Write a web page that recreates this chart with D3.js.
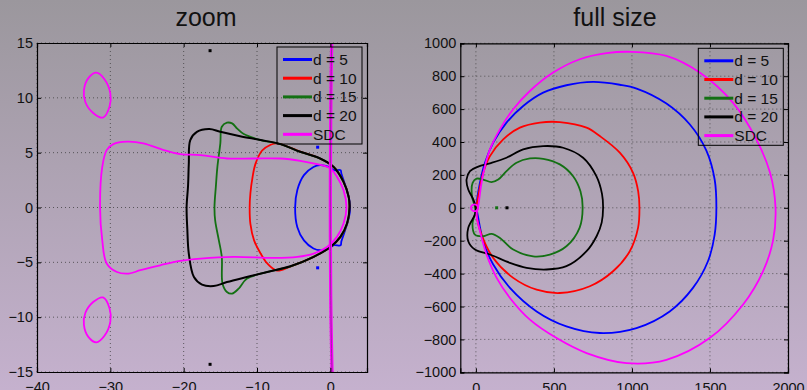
<!DOCTYPE html>
<html>
<head>
<meta charset="utf-8">
<script src="https://cdn.jsdelivr.net/npm/d3@7"></script>
<style>
body{margin:0;}
svg{display:block;font-family:"Liberation Sans",Arial,sans-serif;}
</style>
</head>
<body>
<script>
// legend entries, shared by both panels
const seriesNames = ["d = 5", "d = 10", "d = 15", "d = 20", "SDC"];
const seriesColors = ["#0000ff", "#ff0000", "#137013", "#000000", "#ff00ff"];

// left panel ("zoom"), closed boundary curves
const zoomD5 = [[-4.8,0],[-4.5,1.6],[-3.6,2.95],[-2.3,3.7],[-1.4,3.86],[-0.2,3.7],[0.5,3.4],[1.4,3.4],[1.5,3.1],[1.8,2.5],[2.5,1.0],[2.7,0],[2.5,-1.0],[1.8,-2.5],[1.5,-3.1],[1.4,-3.44],[0.5,-3.44],[-0.2,-3.74],[-1.4,-3.9],[-2.3,-3.74],[-3.6,-3.0],[-4.5,-1.8]];
const zoomD10 = [[-11.0,0],[-10.9,1.3],[-10.6,2.8],[-10.2,4.0],[-9.3,5.2],[-8.2,5.7],[-7.3,5.85],[-4.1,5.1],[-1.4,4.47],[0.45,3.7],[1.8,2.35],[2.5,0.97],[2.6,0],[2.3,-1.46],[1.4,-2.68],[0,-3.6],[-2.3,-4.5],[-5.4,-5.36],[-7.3,-5.75],[-8.6,-5.1],[-9.5,-4.2],[-10.4,-3.0],[-10.9,-1.5]];
const zoomD15 = [[-15.8,0],[-15.6,2.0],[-15.4,3.7],[-15.0,5.85],[-14.8,7.36],[-14.1,7.73],[-13.4,7.67],[-12.7,7.2],[-11.8,6.7],[-9.5,6.15],[-6.8,5.78],[-4.1,5.08],[-1.4,4.47],[0.45,3.7],[1.8,2.34],[2.5,0.97],[2.6,0],[2.3,-1.46],[1.4,-2.68],[0,-3.6],[-2.3,-4.5],[-5.4,-5.36],[-8.6,-5.88],[-11.4,-6.5],[-12.5,-7.4],[-13.4,-7.85],[-14.1,-7.7],[-14.7,-6.95],[-14.8,-4.5],[-15.2,-3.0],[-15.7,-1.2]];
const zoomD20 = [[-19.6,0],[-19.4,2.0],[-19.3,4.0],[-19.1,6.15],[-18.2,6.9],[-16.5,7.15],[-15.0,6.9],[-12.3,6.5],[-9.5,6.15],[-6.8,5.78],[-4.1,5.08],[-1.4,4.47],[0.45,3.7],[1.8,2.34],[2.5,0.97],[2.63,0],[2.27,-1.46],[1.36,-2.68],[0,-3.6],[-2.27,-4.5],[-5.45,-5.36],[-8.6,-5.88],[-11.4,-6.34],[-14.1,-6.8],[-15.9,-7.16],[-17.5,-7.03],[-18.6,-6.34],[-19.3,-4.2],[-19.5,-2.0]];
const zoomSDC = [[-31.4,0],[-31.1,3.7],[-30.5,5.23],[-29.6,5.78],[-27.7,6.0],[-25.5,5.85],[-22.7,5.23],[-20.5,4.87],[-17.7,4.78],[-14.1,4.47],[-10.5,4.47],[-6.8,4.47],[-4.1,4.26],[-1.8,3.95],[0,3.56],[0.9,2.8],[1.8,1.58],[2.2,0],[1.8,-1.46],[0.9,-2.68],[-0.45,-3.6],[-2.27,-4.2],[-4.5,-4.5],[-7.7,-4.6],[-13.2,-4.5],[-17.7,-4.66],[-20.5,-4.87],[-23.2,-5.27],[-25.9,-5.72],[-27.5,-6.03],[-29.1,-5.88],[-30.5,-5.1],[-31.1,-3.0]];
const zoomSDCtop = [[-31.9,12.3],[-30.8,11.7],[-30.0,10.4],[-30.1,9.2],[-31.0,8.2],[-32.3,8.6],[-33.4,9.6],[-33.6,10.7],[-33.0,11.8]];
const zoomSDCbot = [[-31.0,-8.2],[-30.1,-9.2],[-30.0,-10.4],[-30.8,-11.7],[-31.9,-12.3],[-33.0,-11.8],[-33.6,-10.7],[-33.4,-9.6],[-32.3,-8.6]];
const zoomSDCaxis = [[0.3,16],[0.2,15],[0.05,8],[0,0],[0.05,-8],[0.23,-15],[0.3,-16]];
const zoomDotsBlue = [[-1.73,5.5],[-1.73,-5.5]];
const zoomDotsBlack = [[-16.4,14.3],[-16.4,-14.3]];

// right panel ("full size")
const fullD5 = [[4,10],[26,152],[58,274],[111,396],[196,518],[303,619],[431,700],[580,745],[751,765],[922,748],[1030,725],[1221,634],[1370,508],[1477,348],[1530,172],[1541,0],[1530,-163],[1487,-325],[1391,-487],[1242,-630],[1029,-731],[794,-761],[580,-721],[389,-630],[218,-487],[111,-345],[47,-203],[15,-61]];
const fullD10 = [[6,20],[15,71],[47,213],[90,314],[175,416],[282,487],[410,518],[538,521],[709,487],[794,436],[922,335],[1007,213],[1040,100],[1048,0],[1039,-122],[986,-264],[879,-386],[730,-477],[538,-518],[389,-498],[239,-426],[111,-305],[36,-163],[4,-41]];
const fullD15 = [[-5,0],[-25,70],[-21,152],[4,177],[47,172],[100,156],[143,172],[196,223],[260,274],[346,300],[431,298],[538,264],[623,192],[670,100],[684,0],[665,-120],[580,-234],[474,-284],[367,-295],[239,-254],[154,-183],[100,-158],[47,-173],[-6,-163],[-22,-100],[-5,-30]];
const fullD20 = [[0,0],[-17,51],[-49,111],[-60,172],[-38,223],[15,250],[90,270],[196,304],[303,355],[431,375],[559,365],[687,304],[772,192],[808,85],[815,0],[806,-90],[775,-170],[709,-264],[580,-355],[453,-375],[325,-365],[218,-335],[90,-284],[-6,-254],[-49,-203],[-49,-122],[-6,-41]];
const fullSDC = [[15,10],[36,152],[58,253],[90,355],[154,477],[239,599],[346,710],[495,822],[666,903],[837,940],[1000,948],[1221,923],[1434,822],[1647,639],[1797,416],[1885,213],[1920,0],[1904,-200],[1840,-386],[1711,-589],[1498,-792],[1221,-924],[965,-944],[709,-883],[517,-792],[346,-680],[218,-548],[133,-426],[68,-284],[26,-142],[4,-41]];
const fullSDCloop = [[-32,0],[-20,18],[6,16],[14,0],[6,-16],[-20,-18]];
const fullDotsGreen = [[133,0]];
const fullDotsBlack = [[199,0]];

// ticks
const zoomXTicks = [-40, -30, -20, -10, 0];
const zoomYTicks = [-15, -10, -5, 0, 5, 10, 15];
const fullXTicks = [0, 500, 1000, 1500, 2000];
const fullYTicks = [-1000, -800, -600, -400, -200, 0, 200, 400, 600, 800, 1000];

var width = 807, height = 390;
var svg = d3.select("body").append("svg").attr("width", width).attr("height", height);

var grad = svg.append("defs").append("linearGradient").attr("id", "bg")
  .attr("x1", 0).attr("y1", 0).attr("x2", 0).attr("y2", 1);
grad.append("stop").attr("offset", "0%").attr("stop-color", "#9b979d");
grad.append("stop").attr("offset", "100%").attr("stop-color", "#c5b1ce");
svg.append("rect").attr("width", width).attr("height", height).attr("fill", "url(#bg)");

function drawPanel(p) {
  var x = d3.scaleLinear().domain(p.xDomain).range([p.left, p.right]);
  var y = d3.scaleLinear().domain(p.yDomain).range([p.bottom, p.top]);
  var g = svg.append("g");

  svg.select("defs").append("clipPath").attr("id", p.id + "clip")
    .append("rect").attr("x", p.left).attr("y", p.top)
    .attr("width", p.right - p.left).attr("height", p.bottom - p.top);

  // dotted grid
  g.selectAll(".gx").data(p.xTicks).enter().append("line")
    .attr("x1", d => x(d)).attr("x2", d => x(d)).attr("y1", p.top).attr("y2", p.bottom)
    .attr("stroke", "#3a3a3a").attr("stroke-opacity", 0.75).attr("stroke-dasharray", "1,3");
  g.selectAll(".gy").data(p.yTicks).enter().append("line")
    .attr("y1", d => y(d)).attr("y2", d => y(d)).attr("x1", p.left).attr("x2", p.right)
    .attr("stroke", "#3a3a3a").attr("stroke-opacity", 0.75).attr("stroke-dasharray", "1,3");

  var closed = d3.line().x(d => x(d[0])).y(d => y(d[1])).curve(d3.curveCatmullRomClosed.alpha(0.5));
  var open = d3.line().x(d => x(d[0])).y(d => y(d[1])).curve(d3.curveCatmullRom.alpha(0.5));

  var plot = g.append("g").attr("clip-path", "url(#" + p.id + "clip)");
  p.curves.forEach(function (c) {
    plot.append("path").attr("d", (c.open ? open : closed)(c.pts))
      .attr("fill", "none").attr("stroke", c.color).attr("stroke-width", c.w || 1.8)
      .attr("stroke-linejoin", "round");
  });
  p.dots.forEach(function (c) {
    plot.selectAll(null).data(c.pts).enter().append("rect")
      .attr("x", d => x(d[0]) - 1.5).attr("y", d => y(d[1]) - 1.5)
      .attr("width", 3).attr("height", 3).attr("fill", c.color);
  });

  // axes, ticks pointing inwards like matlab
  var fmt = d3.format("");
  g.append("g").attr("transform", "translate(0," + p.bottom + ")")
    .call(d3.axisBottom(x).tickValues(p.xTicks).tickSize(-4).tickPadding(10).tickFormat(fmt));
  g.append("g").attr("transform", "translate(" + p.left + ",0)")
    .call(d3.axisLeft(y).tickValues(p.yTicks).tickSize(-4).tickPadding(4).tickFormat(fmt));
  g.append("g").attr("transform", "translate(0," + p.top + ")")
    .call(d3.axisTop(x).tickValues(p.xTicks).tickSize(-4).tickFormat(""));
  g.append("g").attr("transform", "translate(" + p.right + ",0)")
    .call(d3.axisRight(y).tickValues(p.yTicks).tickSize(-4).tickFormat(""));
  g.selectAll(".domain").attr("stroke", "#000").attr("stroke-width", 1.2);
  g.selectAll(".tick line").attr("stroke", "#000");
  g.selectAll(".tick text").attr("font-size", 14.5).attr("fill", "#111")
    .attr("font-family", "'Liberation Sans', Arial, sans-serif");

  svg.append("text").attr("x", p.titleX).attr("y", 26).attr("text-anchor", "middle")
    .attr("font-size", 25).attr("fill", "#111").text(p.title);

  // legend
  var lg = svg.append("g").attr("transform", "translate(" + p.legX + "," + p.legY + ")");
  lg.append("rect").attr("width", 85).attr("height", 97)
    .attr("fill", "none").attr("stroke", "#000").attr("stroke-width", 1);
  var item = lg.selectAll(".legends").data(seriesNames).enter().append("g")
    .attr("transform", (d, i) => "translate(0," + (12.5 + i * 18.7) + ")");
  item.append("line").attr("x1", 6).attr("x2", 35).attr("stroke-width", 3)
    .attr("stroke", (d, i) => seriesColors[i]);
  item.append("text").attr("x", 36).attr("y", 5.5).attr("font-size", 15.5)
    .attr("fill", "#111").text(d => d);
}

drawPanel({
  id: "zoom", title: "zoom", titleX: 206,
  left: 37, right: 367, top: 43, bottom: 372,
  xDomain: [-40, 5], yDomain: [-15, 15],
  xTicks: zoomXTicks, yTicks: zoomYTicks,
  legX: 277, legY: 47,
  curves: [
    {pts: zoomD5, color: seriesColors[0]},
    {pts: zoomD10, color: seriesColors[1]},
    {pts: zoomD15, color: seriesColors[2]},
    {pts: zoomD20, color: seriesColors[3], w: 2},
    {pts: zoomSDC, color: seriesColors[4]},
    {pts: zoomSDCtop, color: seriesColors[4]},
    {pts: zoomSDCbot, color: seriesColors[4]},
    {pts: zoomSDCaxis, color: seriesColors[4], open: true, w: 3.2},
    {pts: zoomSDCaxis, color: "#9a2aa0", open: true, w: 1}
  ],
  dots: [
    {pts: zoomDotsBlue, color: seriesColors[0]},
    {pts: zoomDotsBlack, color: seriesColors[3]}
  ]
});

drawPanel({
  id: "full", title: "full size", titleX: 615,
  left: 460.3, right: 788, top: 43.3, bottom: 372.3,
  xDomain: [-100, 2000], yDomain: [-1000, 1000],
  xTicks: fullXTicks, yTicks: fullYTicks,
  legX: 698.3, legY: 48.3,
  curves: [
    {pts: fullD5, color: seriesColors[0]},
    {pts: fullD10, color: seriesColors[1]},
    {pts: fullD15, color: seriesColors[2]},
    {pts: fullD20, color: seriesColors[3]},
    {pts: fullSDC, color: seriesColors[4]},
    {pts: fullSDCloop, color: seriesColors[4]}
  ],
  dots: [
    {pts: fullDotsGreen, color: seriesColors[2]},
    {pts: fullDotsBlack, color: seriesColors[3]}
  ]
});
</script>
</body>
</html>
